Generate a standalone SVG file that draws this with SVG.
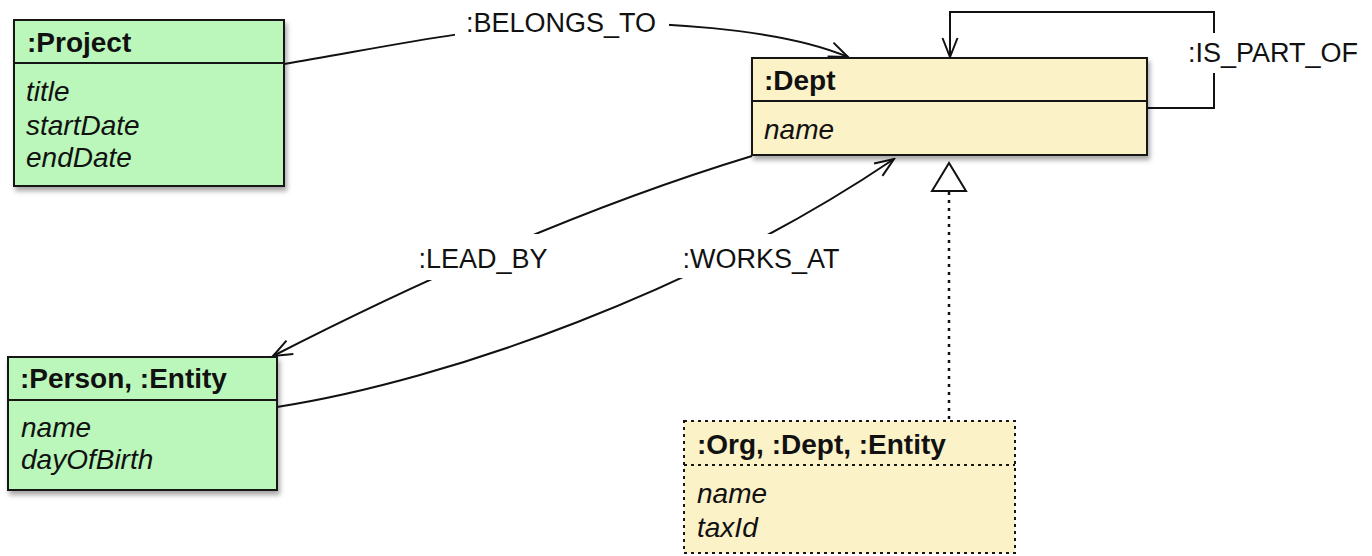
<svg xmlns="http://www.w3.org/2000/svg" width="1372" height="556" viewBox="0 0 1372 556">
<style>
  .box{stroke:#161616;stroke-width:2}
  .green{fill:#bbf7bb}
  .yellow{fill:#fcf2c8}
  .dot{stroke-dasharray:3 4}
  .div{stroke:#161616;stroke-width:2}
  .hdr{font-family:"Liberation Sans",Arial,sans-serif;font-weight:bold;font-size:28px;fill:#111}
  .attr{font-family:"Liberation Sans",Arial,sans-serif;font-style:italic;font-size:28px;fill:#111}
  .lbl{font-family:"Liberation Sans",Arial,sans-serif;font-size:27px;fill:#111;text-anchor:middle}
  .edge{fill:none;stroke:#111;stroke-width:2}
  .bg{fill:#fff}
</style>
<defs>
  <filter id="sh" x="-10%" y="-10%" width="125%" height="130%">
    <feDropShadow dx="2" dy="4" stdDeviation="2.5" flood-color="#000" flood-opacity="0.35"/>
  </filter>
  <marker id="open" markerWidth="22" markerHeight="18" refX="20" refY="9" orient="auto" markerUnits="userSpaceOnUse" viewBox="0 0 22 18">
    <path d="M1,1.5 L20,9 L1,16.5" fill="none" stroke="#111" stroke-width="2"/>
  </marker>
</defs>

<g id="connectors">
  <path id="belongs_to" class="edge" d="M284,64 C380,48 470,28 560,24 S780,28 848,57" marker-end="url(#open)"/>
  <path id="is_part_of" class="edge" d="M1147,108 H1214 V12 H950 V57" marker-end="url(#open)"/>
  <path id="lead_by" class="edge" d="M752,156 C640,190 480,250 273,356" marker-end="url(#open)"/>
  <path id="works_at" class="edge" d="M277,407 C450,380 700,290 894,159" marker-end="url(#open)"/>
  <g id="generalization">
    <line x1="949" y1="192" x2="949" y2="421" stroke="#111" stroke-width="2.5" stroke-dasharray="3 5"/>
    <polygon points="949,163 932,191 966,191" fill="#fff" stroke="#111" stroke-width="2"/>
  </g>
  <rect class="bg" x="455" y="5" width="214" height="36"/>
  <text class="lbl" x="561" y="32">:BELONGS_TO</text>
  <rect class="bg" x="1184" y="33" width="180" height="40"/>
  <text class="lbl" x="1273" y="62">:IS_PART_OF</text>
  <rect class="bg" x="410" y="234" width="146" height="46"/>
  <text class="lbl" x="483" y="268">:LEAD_BY</text>
  <rect class="bg" x="674" y="234" width="174" height="44"/>
  <text class="lbl" x="761" y="268">:WORKS_AT</text>
</g>

<g id="project">
  <rect class="box green" x="14" y="20" width="270" height="166" filter="url(#sh)"/>
  <line class="div" x1="14" y1="63" x2="284" y2="63"/>
  <text class="hdr" x="27" y="52">:Project</text>
  <text class="attr" x="26" y="101">title</text>
  <text class="attr" x="26" y="135">startDate</text>
  <text class="attr" x="26" y="167">endDate</text>
</g>

<g id="dept">
  <rect class="box yellow" x="752" y="58" width="395" height="97" filter="url(#sh)"/>
  <line class="div" x1="752" y1="101" x2="1147" y2="101"/>
  <text class="hdr" x="764" y="90">:Dept</text>
  <text class="attr" x="764" y="139">name</text>
</g>

<g id="person">
  <rect class="box green" x="8" y="357" width="269" height="133" filter="url(#sh)"/>
  <line class="div" x1="8" y1="400" x2="277" y2="400"/>
  <text class="hdr" x="20" y="388">:Person, :Entity</text>
  <text class="attr" x="21" y="437">name</text>
  <text class="attr" x="21" y="469">dayOfBirth</text>
</g>

<g id="org">
  <rect class="box yellow dot" x="684" y="421" width="331" height="132"/>
  <line class="div dot" x1="684" y1="465" x2="1015" y2="465"/>
  <text class="hdr" x="697" y="454">:Org, :Dept, :Entity</text>
  <text class="attr" x="697" y="503">name</text>
  <text class="attr" x="697" y="537">taxId</text>
</g>
</svg>
